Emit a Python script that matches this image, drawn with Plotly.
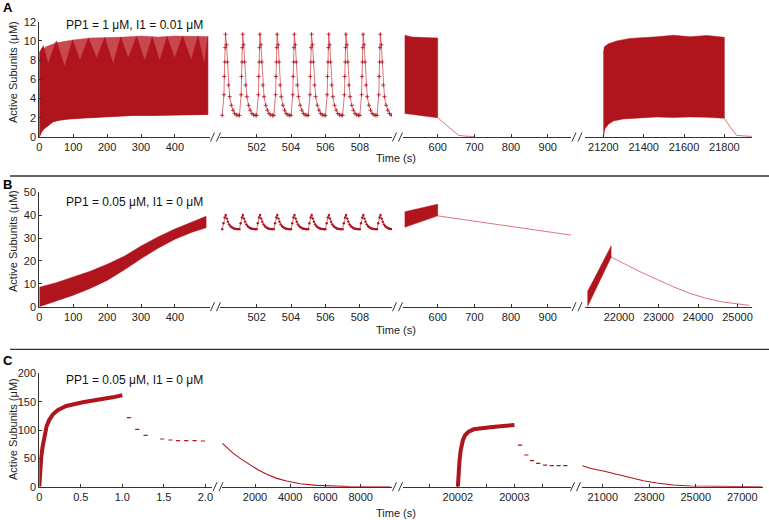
import plotly.graph_objects as go

W, H = 769, 520
RED = "#B0141C"
LIGHT = "#C84850"
THIN = "rgba(196,40,50,0.8)"
AXC = "#333333"
FONT = "Arial, Liberation Sans, sans-serif"

# ---------------- DATA ----------------
# Panel A (PP1 = 1 uM, I1 = 0.01 uM)
a1_low_t = [0, 3, 7, 14, 21, 30, 41, 60, 80, 120, 178, 230, 276, 330, 375, 430, 492, 497]
a1_low_v = [0, 0.3, 0.55, 0.85, 1.05, 1.35, 1.6, 1.75, 1.85, 1.95, 2.08, 2.15, 2.25, 2.25, 2.27, 2.3, 2.37, 2.35]
a1_high_t = [0, 5, 20, 50, 100, 150, 200, 250, 300, 350, 400, 450, 497]
a1_high_v = [8.8, 9.0, 9.4, 9.8, 10.1, 10.3, 10.35, 10.4, 10.5, 10.4, 10.5, 10.5, 10.45]
a1_dark_t = [0, 12, 26, 50, 75, 98, 120, 145, 169, 193, 218, 240, 262, 287, 311, 333, 355, 377, 399, 423, 448, 468, 487, 497]
a1_dark_v = [8.8, 9.5, 7.6, 10.0, 7.3, 10.1, 8.0, 10.3, 8.2, 10.35, 7.6, 10.4, 8.2, 10.45, 7.9, 10.4, 7.9, 10.45, 8.2, 10.5, 8.0, 10.5, 7.6, 10.45]

a2_onsets = [500, 501, 502, 503, 504, 505, 506, 507, 508, 509]
a2_prof_dt = [0, 0.10, 0.12, 0.15, 0.17, 0.19, 0.25, 0.30, 0.36, 0.43, 0.53, 0.62, 0.72, 0.82, 0.92]
a2_prof_v = [2.25, 4.4, 6.3, 7.8, 9.3, 10.7, 9.6, 7.8, 5.4, 4.2, 3.3, 2.8, 2.45, 2.3, 2.25]

a3_low_t = [510, 540, 570, 600]
a3_low_v = [2.45, 2.3, 2.15, 2.0]
a3_high_t = [510, 530, 560, 600]
a3_high_v = [10.6, 10.4, 10.35, 10.3]
a3_decay_t = [600, 620, 640, 657, 680, 700]
a3_decay_v = [2.0, 1.35, 0.7, 0.17, 0.08, 0.05]

a4_low_t = [21200, 21208, 21225, 21250, 21299, 21382, 21465, 21547, 21630, 21713, 21800]
a4_low_v = [0, 0.87, 1.32, 1.67, 1.88, 2.02, 2.09, 2.02, 2.09, 2.05, 1.95]
a4_high_t = [21200, 21205, 21225, 21266, 21332, 21465, 21547, 21630, 21713, 21800]
a4_high_v = [8.7, 9.4, 9.7, 10.0, 10.26, 10.43, 10.6, 10.43, 10.57, 10.37]
a4_decay_t = [21800, 21830, 21861, 21900, 21935]
a4_decay_v = [1.95, 1.0, 0.17, 0.08, 0.06]

# Panel B (PP1 = 0.05 uM, I1 = 0 uM)
b1_low_t = [0, 50, 100, 150, 200, 250, 300, 350, 400, 450, 492]
b1_low_v = [0, 2.5, 5, 8, 11.5, 16, 21, 25.5, 29.5, 32.5, 34.5]
b1_high_t = [0, 50, 100, 150, 200, 250, 300, 350, 400, 450, 492]
b1_high_v = [8.5, 10.5, 13, 15.5, 18.5, 22, 26.5, 30.5, 34, 37, 39.5]

b2_onsets = [500, 501, 502, 503, 504, 505, 506, 507, 508, 509]
b2_prof_dt = [0, 0.07, 0.14, 0.2, 0.27, 0.33, 0.4, 0.47, 0.53, 0.6, 0.67, 0.73, 0.8, 0.87, 0.93]
b2_prof_v = [33.9, 36.5, 39.0, 40.1, 38.5, 37.1, 36.0, 35.3, 34.8, 34.5, 34.2, 34.1, 34.0, 33.9, 33.9]

b3_low_t = [510, 600]
b3_low_v = [34.7, 39.7]
b3_high_t = [510, 600]
b3_high_v = [41.5, 44.8]
b3_line_t = [600, 700, 800, 900, 963]
b3_line_v = [39.7, 37.4, 35.1, 32.9, 31.3]

b4_low_t = [21200, 21800]
b4_low_v = [0, 21.6]
b4_high_t = [21200, 21800]
b4_high_v = [6.5, 26.5]
b4_decay_t = [21800, 22109, 22532, 22954, 23375, 23797, 24220, 24641, 25063, 25300]
b4_decay_v = [21.7, 19.0, 15.3, 12.0, 8.7, 5.8, 3.6, 2.0, 1.0, 0.6]

# Panel C (PP1 = 0.05 uM, I1 = 0 uM)
c1_t = [0, 0.004, 0.012, 0.024, 0.04, 0.06, 0.087, 0.119, 0.167, 0.226, 0.325, 0.524, 0.722, 0.881, 1.0]
c1_v = [0, 11.8, 35, 53, 70.6, 88, 106, 117.6, 128.2, 135.3, 142.4, 148.8, 152.9, 157.6, 161.2]
c1_pts_t = [1.08, 1.18, 1.28, 1.48, 1.58, 1.67, 1.77, 1.87, 1.97]
c1_pts_v = [121.8, 101.2, 90.6, 84.1, 82.4, 81.2, 81.2, 81.2, 80.6]

c2_t = [150, 394, 768, 1245, 1716, 2189, 2664, 3232, 3799, 4554, 5502, 6444, 7390, 8700, 9700]
c2_v = [76.5, 69.4, 58.8, 48.2, 38.2, 29.4, 21.8, 14.7, 10.0, 5.3, 2.4, 0.6, 0.1, 0, 0]

c3_t = [20002.0, 20002.01, 20002.03, 20002.05, 20002.09, 20002.13, 20002.19, 20002.28, 20002.42, 20002.57, 20002.80, 20003.0]
c3_v = [0, 23.5, 47, 64.7, 82.4, 91.2, 97, 101.2, 103.5, 104.7, 107, 108.8]
c3_pts_t = [20003.10, 20003.21, 20003.31, 20003.42, 20003.54, 20003.66, 20003.78, 20003.90]
c3_pts_v = [73.5, 55.9, 45.9, 41.2, 38.2, 37.1, 37.1, 37.1]

c4_t = [20130, 20454, 21026, 21600, 22173, 22745, 23320, 24034, 24752, 26183, 27850]
c4_v = [37, 32.4, 27.6, 21.8, 15.9, 10.6, 6.5, 2.9, 1.2, 0.1, 0]

# Ticks
a_xticks = [[0, 100, 200, 300, 400], [502, 504, 506, 508], [600, 700, 800, 900], [21200, 21400, 21600, 21800]]
b_xticks = [[0, 100, 200, 300, 400], [502, 504, 506, 508], [600, 700, 800, 900], [22000, 23000, 24000, 25000]]
c_xticks = [[0, 0.5, 1, 1.5, 2], [2000, 4000, 6000, 8000], [20001.5, 20002, 20002.5, 20003, 20003.5], [21000, 23000, 25000, 27000]]
c_xticklabels = [["0", "0.5", "1.0", "1.5", "2.0"], ["2000", "4000", "6000", "8000"], ["", "20002", "", "20003", ""], ["21000", "23000", "25000", "27000"]]
a_yticks = [0, 2, 4, 6, 8, 10, 12]
b_yticks = [0, 10, 20, 30, 40, 50]
c_yticks = [0, 50, 100, 150, 200]

y_title = "Active Subunits (μM)"
x_title = "Time (s)"
a_label = "PP1 = 1 μM, I1 = 0.01 μM"
b_label = "PP1 = 0.05 μM, I1 = 0 μM"
c_label = "PP1 = 0.05 μM, I1 = 0 μM"

# ---------------- LAYOUT GEOMETRY (pixels) ----------------
def fx(p):
    return p / W

def fy(p):
    return 1 - p / H

rows = [
    dict(name="A", ybot=137, ytop=21.7, yr=[0, 12], yt=a_yticks,
         dom=[(39.3, 210), (220, 392), (403, 571), (585, 752)],
         rng=[[0, 503.5], [499.87, 509.87], [505.4, 963.5], [21109, 21937]],
         xt=a_xticks, xtt=[[str(v) for v in a] for a in a_xticks],
         gaps=[210.5, 392.5, 572.0], lbl=a_label, lbly=25, ytc=72, tt=158.3, let=7.5),
    dict(name="B", ybot=306.7, ytop=192.3, yr=[0, 50], yt=b_yticks,
         dom=[(39.3, 210), (220, 392), (403, 571), (585, 752)],
         rng=[[0, 503.5], [499.87, 509.87], [505.4, 963.5], [21139, 25367]],
         xt=b_xticks, xtt=[[str(v) for v in a] for a in b_xticks],
         gaps=[210.5, 392.5, 572.0], lbl=b_label, lbly=201.7, ytc=241, tt=330, let=184),
    dict(name="C", ybot=486.7, ytop=373.3, yr=[0, 200], yt=c_yticks,
         dom=[(39.3, 212), (222, 392), (403, 571), (582, 763)],
         rng=[[0, 2.08], [127, 9776], [20001.03, 20004.0], [20110, 27890]],
         xt=c_xticks, xtt=c_xticklabels,
         gaps=[213.0, 392.5, 570.5], lbl=c_label, lbly=380, ytc=429, tt=512.7, let=360),
]

fig = go.Figure()
layout = dict(width=W, height=H, autosize=False,
              margin=dict(l=0, r=0, t=0, b=0, pad=0, autoexpand=False),
              paper_bgcolor="white", plot_bgcolor="white", showlegend=False,
              font=dict(family=FONT, size=11, color="#222"))
shapes = []
annotations = []

axis_common = dict(showline=True, linecolor=AXC, linewidth=1, ticks="inside", ticklen=3,
                   tickcolor=AXC, tickwidth=1, showgrid=False, zeroline=False, automargin=False,
                   tickfont=dict(family=FONT, size=11, color="#222"), fixedrange=True)

for r, row in enumerate(rows):
    yname = "yaxis" if r == 0 else f"yaxis{r + 1}"
    yref = "y" if r == 0 else f"y{r + 1}"
    first_x = 4 * r + 1
    layout[yname] = dict(domain=[fy(row["ybot"]), fy(row["ytop"])], range=row["yr"],
                         anchor="x" if first_x == 1 else f"x{first_x}",
                         tickmode="array", tickvals=row["yt"], ticktext=[str(v) for v in row["yt"]],
                         **axis_common)
    for s in range(4):
        k = 4 * r + s + 1
        xname = "xaxis" if k == 1 else f"xaxis{k}"
        d0, d1 = row["dom"][s]
        layout[xname] = dict(domain=[fx(d0), fx(d1)], range=row["rng"][s], anchor=yref,
                             tickmode="array", tickvals=row["xt"][s], ticktext=row["xtt"][s],
                             **axis_common)
    # break marks
    for g in row["gaps"]:
        for off in (0, 6):
            x0 = g + off
            shapes.append(dict(type="line", xref="paper", yref="paper",
                               x0=fx(x0), y0=fy(row["ybot"] + 4.5), x1=fx(x0 + 4), y1=fy(row["ybot"] - 4.5),
                               line=dict(color=AXC, width=1)))
    annotations.append(dict(text=row["lbl"], x=fx(64), y=fy(row["lbly"]), xref="paper", yref="paper",
                            xanchor="left", yanchor="middle", showarrow=False,
                            font=dict(family=FONT, size=12, color="#111")))
    annotations.append(dict(text=y_title, x=fx(13), y=fy(row["ytc"]), xref="paper", yref="paper",
                            xanchor="center", yanchor="middle", textangle=-90, showarrow=False,
                            font=dict(family=FONT, size=11, color="#222")))
    annotations.append(dict(text=x_title, x=fx(396), y=fy(row["tt"]), xref="paper", yref="paper",
                            xanchor="center", yanchor="middle", showarrow=False,
                            font=dict(family=FONT, size=11, color="#222")))
    annotations.append(dict(text="<b>" + row["name"] + "</b>", x=fx(1), y=fy(row["let"]), xref="paper", yref="paper",
                            xanchor="left", yanchor="middle", showarrow=False,
                            font=dict(family=FONT, size=13, color="#000")))

for ysep in (176, 349.3):
    shapes.append(dict(type="line", xref="paper", yref="paper", x0=fx(10), x1=1, y0=fy(ysep), y1=fy(ysep),
                       line=dict(color=AXC, width=1.3)))

layout["shapes"] = shapes
layout["annotations"] = annotations


def band(xa, ya, lo_t, lo_v, hi_t, hi_v, color):
    fig.add_trace(go.Scatter(x=list(lo_t) + list(hi_t)[::-1], y=list(lo_v) + list(hi_v)[::-1],
                             xaxis=xa, yaxis=ya, mode="lines", fill="toself", fillcolor=color,
                             line=dict(width=0.5, color=color), hoverinfo="skip"))


def line(xa, ya, t, v, color=THIN, width=0.8, mode="lines", marker=None):
    kw = dict(x=t, y=v, xaxis=xa, yaxis=ya, mode=mode, line=dict(color=color, width=width), hoverinfo="skip")
    if marker:
        kw["marker"] = marker
    fig.add_trace(go.Scatter(**kw))


def spikes(onsets, dts, vals):
    xs, ys = [], []
    for o in onsets:
        for d, v in zip(dts, vals):
            xs.append(o + d)
            ys.append(v)
    return xs, ys

# Panel A
band("x", "y", a1_low_t, a1_low_v, a1_high_t, a1_high_v, LIGHT)
band("x", "y", a1_low_t, a1_low_v, a1_dark_t, a1_dark_v, RED)
sx, sy = spikes(a2_onsets, a2_prof_dt, a2_prof_v)
line("x2", "y", sx, sy, mode="lines+markers",
     marker=dict(symbol="cross-thin", size=3, line=dict(width=0.8, color=RED), color=RED))
band("x3", "y", a3_low_t, a3_low_v, a3_high_t, a3_high_v, RED)
line("x3", "y", a3_decay_t, a3_decay_v)
band("x4", "y", a4_low_t, a4_low_v, a4_high_t, a4_high_v, RED)
line("x4", "y", a4_decay_t, a4_decay_v)

# Panel B
band("x5", "y2", b1_low_t, b1_low_v, b1_high_t, b1_high_v, RED)
sx, sy = spikes(b2_onsets, b2_prof_dt, b2_prof_v)
line("x6", "y2", sx, sy, mode="lines+markers", marker=dict(symbol="circle", size=2.4, color=RED))
band("x7", "y2", b3_low_t, b3_low_v, b3_high_t, b3_high_v, RED)
line("x7", "y2", b3_line_t, b3_line_v)
band("x8", "y2", b4_low_t, b4_low_v, b4_high_t, b4_high_v, RED)
line("x8", "y2", b4_decay_t, b4_decay_v)

# Panel C
dash_marker = dict(symbol="line-ew", size=3, line=dict(width=1.2, color=RED), color=RED)
line("x9", "y3", c1_t, c1_v, color=RED, width=4)
line("x9", "y3", c1_pts_t, c1_pts_v, mode="markers", marker=dash_marker)
line("x10", "y3", c2_t, c2_v, color=RED, width=1.1)
line("x11", "y3", c3_t, c3_v, color=RED, width=4)
line("x11", "y3", c3_pts_t, c3_pts_v, mode="markers", marker=dash_marker)
line("x12", "y3", c4_t, c4_v, color=RED, width=1.1)

fig.update_layout(**layout)
fig.write_html("out.html", config={"displayModeBar": False},
               post_script="document.body.style.margin='0';document.body.style.padding='0';")
